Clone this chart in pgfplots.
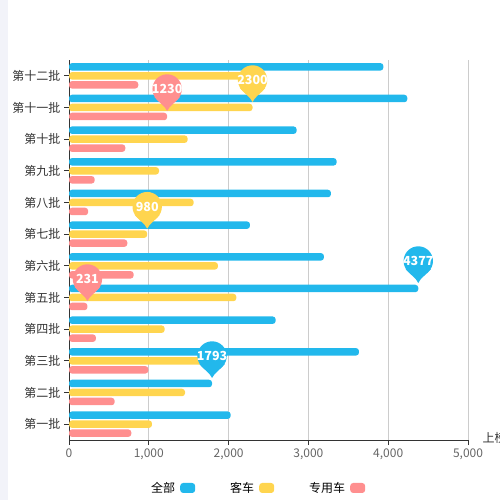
\documentclass[border=0pt]{standalone}
\usepackage{pgfplots}
\pgfplotsset{compat=1.18}
\usepackage{fontspec}
\setmainfont{Noto Sans CJK SC}
\definecolor{cblue}{HTML}{22B8EC}
\definecolor{cyellow}{HTML}{FFD54F}
\definecolor{cred}{HTML}{FF8F8F}
\definecolor{stripc}{HTML}{F2F3F9}
\definecolor{axisc}{HTML}{333333}
\definecolor{gridc}{HTML}{CCCCCC}
\definecolor{ticklab}{HTML}{666666}

\tikzset{pinlabel/.style={anchor=center, yshift=22bp, text=white, font=\fontsize{12.5bp}{14bp}\selectfont\bfseries}}

\pgfdeclareplotmark{pin}{%
  \pgfpathmoveto{\pgfpoint{0bp}{0bp}}%
  \pgfpathcurveto{\pgfpoint{-2bp}{5bp}}{\pgfpoint{-9bp}{9bp}}{\pgfpoint{-12.7bp}{14bp}}%
  \pgfpathlineto{\pgfpoint{12.7bp}{14bp}}%
  \pgfpathcurveto{\pgfpoint{9bp}{9bp}}{\pgfpoint{2bp}{5bp}}{\pgfpoint{0bp}{0bp}}%
  \pgfpathclose
  \pgfusepathqfill
  \pgfpathcircle{\pgfpoint{0bp}{22bp}}{14.7bp}%
  \pgfusepathqfill
}

\pgfplotstableread{
y v
1 2026
2 1793
3 3634
4 2590
5 4377
6 3195
7 2268
8 3283
9 3354
10 2853
11 4240
12 3940
}\blue
\pgfplotstableread{
y v
1 1040
2 1454
3 1700
4 1199
5 2097
6 1867
7 980
8 1562
9 1128
10 1487
11 2300
12 2260
}\yellow
\pgfplotstableread{
y v
1 781
2 572
3 994
4 338
5 231
6 810
7 731
8 240
9 322
10 706
11 1230
12 868
}\red

\begin{document}
\begin{tikzpicture}
\useasboundingbox (0,0) rectangle (500bp,500bp);
\clip (0,0) rectangle (500bp,500bp);
\fill[stripc] (0,0) rectangle (8bp,500bp);
\begin{axis}[
  at={(69bp,60bp)}, anchor=south west,
  scale only axis, width=399bp, height=380bp,
  xmin=0, xmax=5000, ymin=0.5, ymax=12.5,
  axis x line=bottom, axis y line=left,
  axis line style={-, draw=axisc, line width=0.9bp},
  xtick={0,1000,2000,3000,4000,5000},
  ytick={1,2,3,4,5,6,7,8,9,10,11,12},
  yticklabels={第一批,第二批,第三批,第四批,第五批,第六批,第七批,第八批,第九批,第十批,第十一批,第十二批},
  tick align=outside, major tick length=5bp,
  tick style={draw=axisc, line width=0.9bp},
  xmajorgrids, grid style={draw=gridc, line width=0.8bp},
  /pgf/number format/assume math mode=true,
  /pgf/number format/1000 sep={,},
  scaled x ticks=false,
  xticklabel style={font=\fontsize{12bp}{14bp}\selectfont, text=ticklab},
  yticklabel style={font=\fontsize{12bp}{14bp}\selectfont, text=axisc},
  xlabel={上榜数量},
  xlabel style={at={(axis description cs:1,0)}, anchor=west, xshift=11bp, yshift=2bp, font=\fontsize{12bp}{14bp}\selectfont, text=axisc},
  legend columns=3,
  legend plot pos=right,
  legend image code/.code={\fill[#1, rounded corners=3bp] (0bp,-5bp) rectangle (15bp,5bp);},
  legend style={at={(0.2055,-0.1263)}, anchor=west, draw=none, fill=none, inner sep=0pt,
    font=\fontsize{12bp}{14bp}\selectfont, text=black,
    nodes={inner sep=0pt},
    /tikz/every odd column/.append style={column sep=5bp},
    /tikz/every even column/.append style={column sep=35bp}},
]
\addplot[xbar, bar width=7.5bp, bar shift=9bp, fill=cblue, draw=none, rounded corners=3bp] table[x=v, y=y] {\blue};
\addlegendentry{全部}
\addplot[xbar, bar width=7.5bp, bar shift=0bp, fill=cyellow, draw=none, rounded corners=3bp] table[x=v, y=y] {\yellow};
\addlegendentry{客车}
\addplot[xbar, bar width=7.5bp, bar shift=-9bp, fill=cred, draw=none, rounded corners=3bp] table[x=v, y=y] {\red};
\addlegendentry{专用车}

\addplot[forget plot, only marks, mark=pin, color=cyellow, mark options={yshift=5.5bp},
  point meta=explicit symbolic, nodes near coords, nodes near coords style={pinlabel}]
  coordinates {(2300,11) [2300] (980,7) [980]};
\addplot[forget plot, only marks, mark=pin, color=cred, mark options={yshift=-3.5bp},
  point meta=explicit symbolic, nodes near coords, nodes near coords style={pinlabel}]
  coordinates {(1230,11) [1230] (231,5) [231]};
\addplot[forget plot, only marks, mark=pin, color=cblue, mark options={yshift=14.5bp},
  point meta=explicit symbolic, nodes near coords, nodes near coords style={pinlabel}]
  coordinates {(4377,5) [4377] (1793,2) [1793]};
\end{axis}
\end{tikzpicture}
\end{document}
